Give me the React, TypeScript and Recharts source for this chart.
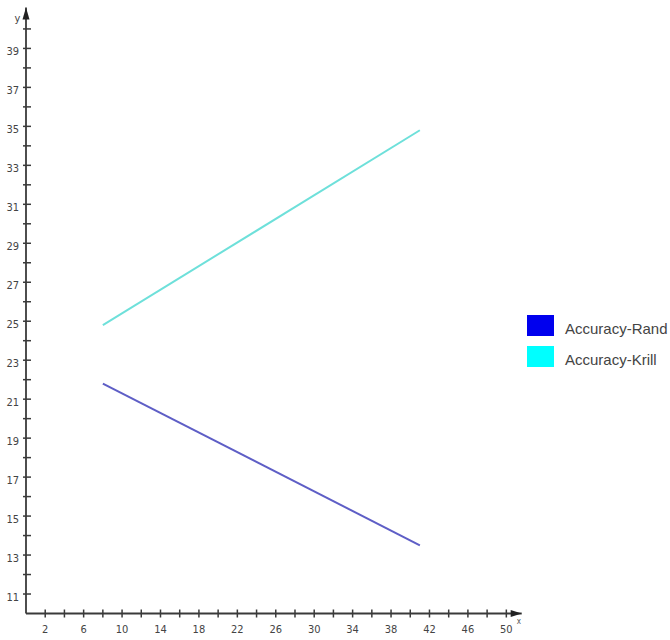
import React from 'react';
import { LineChart, Line, XAxis, YAxis, ReferenceDot, Legend } from 'recharts';

const xValues = [8, 41];
const accuracyRand = [21.8, 13.5];
const accuracyKrill = [24.8, 34.8];

const xTicks = [2, 4, 6, 8, 10, 12, 14, 16, 18, 20, 22, 24, 26, 28, 30, 32, 34, 36, 38, 40, 42, 44, 46, 48, 50];
const xLabelTicks = [2, 6, 10, 14, 18, 22, 26, 30, 34, 38, 42, 46, 50];
const yTicks = [11, 12, 13, 14, 15, 16, 17, 18, 19, 20, 21, 22, 23, 24, 25, 26, 27, 28, 29, 30, 31, 32, 33, 34, 35, 36, 37, 38, 39, 40];
const yLabelTicks = [11, 13, 15, 17, 19, 21, 23, 25, 27, 29, 31, 33, 35, 37, 39];

const seriesNames = ['Accuracy-Rand', 'Accuracy-Krill'];
const legendColors = ['#0000ee', '#00ffff'];
const lineColors = ['#5e5ec6', '#6ee0da'];

const data = xValues.map((x, i) => ({ x, rand: accuracyRand[i], krill: accuracyKrill[i] }));

const AXIS = '#3a3a3a';
const tickFont = "'Liberation Sans Narrow', 'DejaVu Sans Condensed', 'Liberation Sans', sans-serif";

const YTick = (props: any) => {
  const { x, y, payload } = props;
  const v = payload.value;
  return (
    <g>
      <line x1={x - 3} x2={x + 5} y1={y} y2={y} stroke={AXIS} strokeWidth={1.5} />
      {yLabelTicks.includes(v) && (
        <text x={x - 7} y={y + 3} textAnchor="end" dominantBaseline="central" fontSize={11} fontFamily={tickFont} fill="#444">
          {v}
        </text>
      )}
    </g>
  );
};

const XTick = (props: any) => {
  const { x, y, payload } = props;
  const v = payload.value;
  return (
    <g>
      <line x1={x} x2={x} y1={y - 4} y2={y + 4} stroke={AXIS} strokeWidth={1.5} />
      {xLabelTicks.includes(v) && (
        <text x={x} y={y + 16} textAnchor="middle" dominantBaseline="central" fontSize={11} fontFamily={tickFont} fill="#444">
          {v}
        </text>
      )}
    </g>
  );
};

const UpArrow = (props: any) => {
  const { cx, cy } = props;
  return (
    <g>
      <polygon points={`${cx},${cy} ${cx - 3.5},${cy + 12} ${cx + 3.5},${cy + 12}`} fill="#222" />
      <text x={cx - 8.5} y={cy + 11} textAnchor="middle" dominantBaseline="central" fontSize={11} fontFamily={tickFont} fill="#444">
        y
      </text>
    </g>
  );
};

const RightArrow = (props: any) => {
  const { cx, cy } = props;
  return (
    <g>
      <polygon points={`${cx},${cy} ${cx - 11},${cy - 3.5} ${cx - 11},${cy + 3.5}`} fill="#222" />
      <text x={cx - 5} y={cy + 8} textAnchor="start" dominantBaseline="central" fontSize={8} fontFamily={tickFont} fill="#555">
        x
      </text>
    </g>
  );
};

const LegendContent = () => (
  <div style={{ fontFamily: "'Liberation Sans', Arial, sans-serif", fontSize: 15, color: '#444' }}>
    {seriesNames.map((name, i) => (
      <div key={name} style={{ display: 'flex', alignItems: 'center', height: 21, marginBottom: 10, whiteSpace: 'nowrap' }}>
        <div style={{ width: 27, height: 21, background: legendColors[i], marginRight: 11, flex: 'none' }} />
        <span style={{ position: 'relative', top: 3 }}>{name}</span>
      </div>
    ))}
  </div>
);

export default function App() {
  return (
    <div style={{ position: 'absolute', left: 0, top: 0, width: 670, height: 640, background: '#fff', overflow: 'hidden' }}>
      <LineChart width={670} height={640} data={data} margin={{ top: 7.5, right: 148.3, bottom: 0, left: 0 }}>
        <XAxis
          dataKey="x"
          type="number"
          domain={[0, 51.6]}
          ticks={xTicks}
          interval={0}
          height={26.5}
          tickSize={0}
          tickMargin={0}
          tickLine={false}
          axisLine={{ stroke: AXIS, strokeWidth: 1.8 }}
          tick={XTick}
        />
        <YAxis
          type="number"
          domain={[10, 41.1]}
          ticks={yTicks}
          interval={0}
          width={26}
          tickSize={0}
          tickMargin={0}
          tickLine={false}
          axisLine={{ stroke: AXIS, strokeWidth: 1.8 }}
          tick={YTick}
        />
        <Line type="linear" dataKey="rand" name={seriesNames[0]} stroke={lineColors[0]} strokeWidth={2} dot={false} isAnimationActive={false} />
        <Line type="linear" dataKey="krill" name={seriesNames[1]} stroke={lineColors[1]} strokeWidth={2} dot={false} isAnimationActive={false} />
        <ReferenceDot x={0} y={41.1} r={0} ifOverflow="visible" shape={UpArrow} />
        <ReferenceDot x={51.6} y={10} r={0} ifOverflow="visible" shape={RightArrow} />
        <Legend
          layout="horizontal"
          verticalAlign="middle"
          align="center"
          content={LegendContent}
          wrapperStyle={{ position: 'absolute', left: 527, top: 315, width: 'auto' }}
        />
      </LineChart>
    </div>
  );
}
